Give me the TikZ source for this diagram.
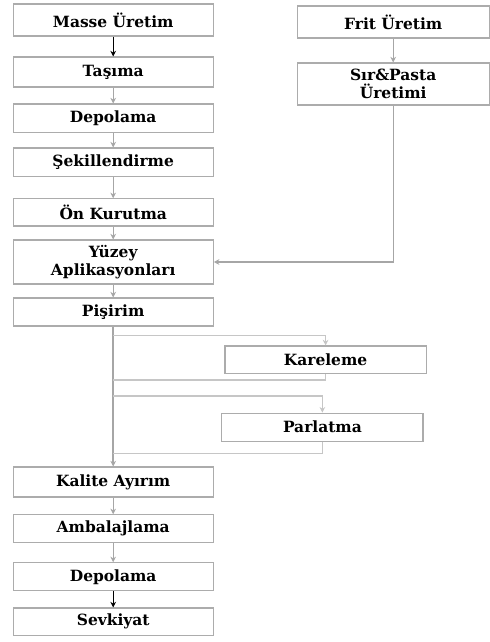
\documentclass[tikz,border=0pt]{standalone}
\usepackage{fontspec}
\setmainfont{DejaVu Serif}
\usetikzlibrary{arrows.meta}

\begin{document}
\begin{tikzpicture}[
  box/.style = {draw = gray!65, line width = 0.8pt, minimum width = 5cm,
    minimum height = 0.7cm, align = center, inner sep = 1pt,
    font = \bfseries\fontsize{11}{12.5}\selectfont},
  flow/.style = {-{Stealth[length = 4pt, width = 4pt]}, line width = 0.9pt, color = gray!70},
  link/.style = {line width = 0.8pt, color = gray!45}]
\useasboundingbox (0, 0) rectangle (12.225, -16.05);
% main line
\node (masse) at (2.83, -0.5) [box, minimum height = 0.8cm] {Masse Üretim};
\node (tasima) at (2.83, -1.8) [box, minimum height = 0.75cm] {Taşıma};
\node (depo1) at (2.83, -2.96) [box, minimum height = 0.72cm] {Depolama};
\node (sekil) at (2.83, -4.06) [box, minimum height = 0.72cm] {Şekillendirme};
\node (onkuru) at (2.83, -5.31) [box, minimum height = 0.68cm] {Ön Kurutma};
\node (yuzey) at (2.83, -6.55) [box, minimum height = 1.1cm] {Yüzey\\Aplikasyonları};
\node (pisirim) at (2.83, -7.8) [box] {Pişirim};
\node (kalite) at (2.83, -12.05) [box, minimum height = 0.75cm] {Kalite Ayırım};
\node (ambalaj) at (2.83, -13.22) [box] {Ambalajlama};
\node (depo2) at (2.83, -14.42) [box] {Depolama};
\node (sevk) at (2.83, -15.54) [box, minimum height = 0.68cm] {Sevkiyat};
% glaze side
\node (frit) at (9.83, -0.55) [box, minimum width = 4.8cm, minimum height = 0.8cm] {Frit Üretim};
\node (sir) at (9.83, -2.1) [box, minimum width = 4.8cm, minimum height = 1.05cm] {Sır\&Pasta\\Üretimi};
% finishing
\node (kare) at (8.14, -8.99) [box, minimum width = 5.03cm, minimum height = 0.68cm] {Kareleme};
\node (parl) at (8.06, -10.68) [box, minimum width = 5.03cm] {Parlatma};
\coordinate (b1) at (2.83, -8.38);
\coordinate (b2) at (2.83, -9.5);
\coordinate (b3) at (2.83, -9.9);
\coordinate (b4) at (2.83, -11.33);

\draw [flow, color = black] (masse) to (tasima);
\draw [flow] (tasima) to (depo1);
\draw [flow] (depo1) to (sekil);
\draw [flow] (sekil) to (onkuru);
\draw [flow] (onkuru) to (yuzey);
\draw [flow] (yuzey) to (pisirim);
\draw [flow, line width = 1.2pt] (pisirim) to (kalite);
\draw [flow] (kalite) to (ambalaj);
\draw [flow] (ambalaj) to (depo2);
\draw [flow, color = black] (depo2) to (sevk);
\draw [flow] (frit) to (sir);
\draw [flow] (sir.south) |- (yuzey.east);
\draw [flow, link] (b1) -| (kare.north);
\draw [link] (kare.south) |- (b2);
\draw [flow, link] (b3) -| (parl.north);
\draw [link] (parl.south) |- (b4);
\end{tikzpicture}
\end{document}
